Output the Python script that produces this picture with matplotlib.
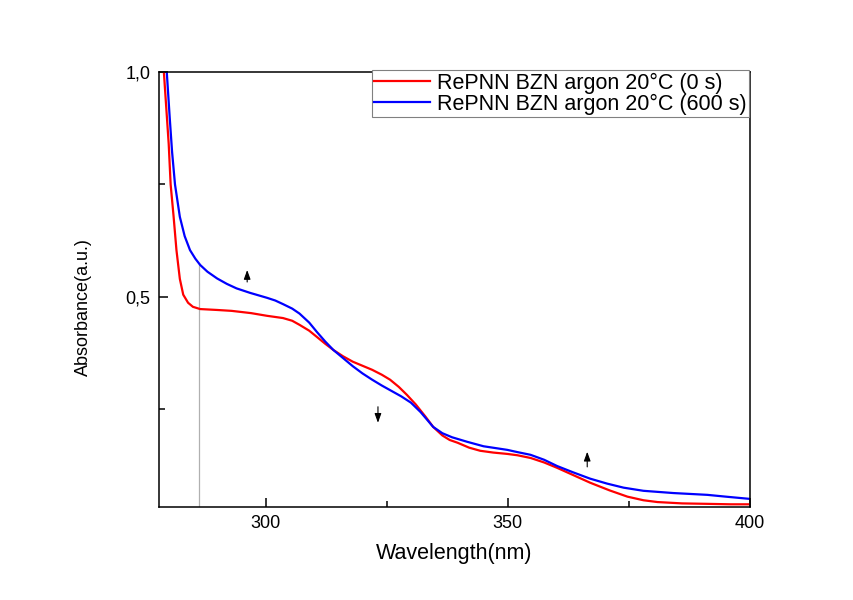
import matplotlib; matplotlib.use('Agg')
import matplotlib.pyplot as plt
from matplotlib.ticker import FixedLocator, FuncFormatter

plt.rcParams['font.family']=['Liberation Sans','DejaVu Sans']

wl_red=[278.5,279.0,280.0,280.4,281.0,281.6,282.3,283.0,284.0,285.0,286.5,290,293,297,300.3,303.6,305.5,307,309,310.6,312.3,314,316,318,320,322,324,325.7,327.5,329.2,331,333,334.6,336.5,338,339.6,342,344.3,347,349.9,352,354.7,357.5,360.2,363.5,367,371,374.7,378,380.9,386,391.2,396,400]
ab_red=[1.08,1.0,0.84,0.75,0.68,0.604,0.54,0.505,0.487,0.478,0.473,0.471,0.469,0.464,0.458,0.453,0.447,0.438,0.425,0.411,0.396,0.382,0.368,0.356,0.347,0.338,0.327,0.316,0.300,0.282,0.261,0.234,0.211,0.192,0.182,0.176,0.165,0.158,0.154,0.151,0.148,0.142,0.132,0.12,0.104,0.087,0.07,0.056,0.048,0.044,0.041,0.04,0.039,0.039]
wl_blue=[279.0,279.6,280.2,280.7,281.3,282.3,283.3,284.4,285.5,286.5,288,290,292,294,296.8,300.3,302,303.6,305.5,307,309,310.6,312.3,314,316,318,320,322,324,326,328,330,332,334.6,336.5,338.5,341.6,345,349.9,352,354.7,357.5,360.2,363.5,367,370.5,373.9,378,384.2,391.2,395,400]
ab_blue=[1.1,1.0,0.9,0.822,0.75,0.678,0.635,0.604,0.585,0.571,0.556,0.541,0.529,0.519,0.509,0.498,0.492,0.484,0.474,0.463,0.443,0.422,0.401,0.382,0.364,0.346,0.330,0.316,0.303,0.291,0.279,0.265,0.244,0.211,0.197,0.188,0.178,0.168,0.16,0.155,0.149,0.138,0.124,0.11,0.096,0.085,0.076,0.069,0.064,0.06,0.056,0.051]
labels=['RePNN BZN argon 20°C (0 s)','RePNN BZN argon 20°C (600 s)']
vline_x=286.3
# arrows: (x, y_start, y_end)
arrows=[(296.2,0.527,0.566),(323.2,0.262,0.214),(366.4,0.116,0.162)]

fig=plt.figure(figsize=(8.54,6),dpi=100)
ax=fig.add_axes([0.1862,0.155,0.692,0.725])
ax.plot(wl_red,ab_red,color='#ff0000',lw=1.6,label=labels[0])
ax.plot(wl_blue,ab_blue,color='#0000ff',lw=1.6,label=labels[1])
ax.plot([vline_x,vline_x],[0,0.575],color='#b0b0b0',lw=0.9,zorder=1)
for x,y0,y1 in arrows:
    ax.annotate('',xy=(x,y1),xytext=(x,y0),arrowprops=dict(arrowstyle='-|>,head_length=0.55,head_width=0.2',color='black',lw=0.8))

ax.set_xlim(278,400); ax.set_ylim(0.033,1.0)
ax.xaxis.set_major_locator(FixedLocator([300,350,400]))
ax.xaxis.set_minor_locator(FixedLocator([325,375]))
ax.yaxis.set_major_locator(FixedLocator([0.5,1.0]))
ax.yaxis.set_minor_locator(FixedLocator([0.25,0.75]))
ax.yaxis.set_major_formatter(FuncFormatter(lambda v,p:f'{v:.1f}'.replace('.',',')))
ax.tick_params(which='both',direction='in',labelsize=13,top=False,right=False)
ax.tick_params(which='major',length=6.5,width=1.1,pad=6)
ax.tick_params(which='minor',length=4,width=1.1)
for s in ax.spines.values(): s.set_linewidth(1.1)
ax.set_xlabel('Wavelength(nm)',fontsize=15.5)
ax.set_ylabel('Absorbance(a.u.)',fontsize=13)
ax.xaxis.set_label_coords(0.5,-0.083)
ax.yaxis.set_label_coords(-0.113,0.46)
leg=ax.legend(loc='upper right',bbox_to_anchor=(0.998,1.005),fontsize=15.5,frameon=True,fancybox=False,
              edgecolor='#808080',framealpha=1,borderpad=0.12,handlelength=2.6,handletextpad=0.3,labelspacing=0.0,borderaxespad=0)
leg.get_frame().set_linewidth(0.8)
plt.savefig('out.png',dpi=100)
